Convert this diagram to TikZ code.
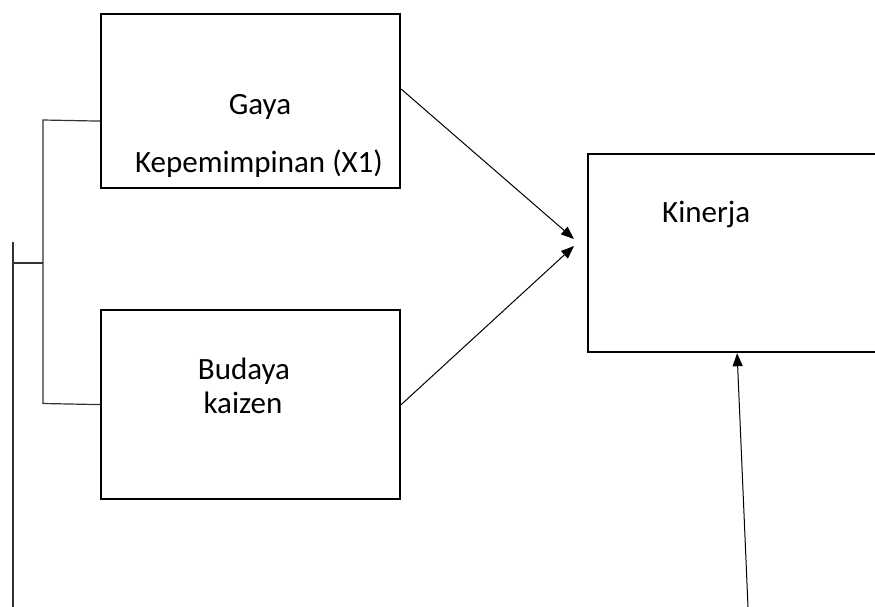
\documentclass[tikz,border=0pt]{standalone}
\usepackage{fontspec}
\setmainfont{Carlito}
\usetikzlibrary{arrows.meta}
\begin{document}
\begin{tikzpicture}[x=1pt,y=-1pt,
  boxnode/.style={draw,line width=2.2pt,rectangle,inner sep=0pt,anchor=north west},
  lbl/.style={inner sep=0pt,font=\fontsize{31}{35}\selectfont},
  conn/.style={line width=1pt,-{Triangle[length=13pt,width=10pt]}},
  brk/.style={line width=1.2pt,draw=black!80}]
\useasboundingbox (0,0) rectangle (875,607);
\node[boxnode,minimum width=299pt,minimum height=174pt] (b1) at (100,13) {};
\node[boxnode,minimum width=299pt,minimum height=189pt] (b2) at (100,309) {};
\node[boxnode,minimum width=298pt,minimum height=198pt] (k) at (587,153) {};
\node[lbl,anchor=base] (g1) at (260,115) {Gaya};
\node[lbl,anchor=base] (g2) at (259,172) {Kepemimpinan (X1)};
\node[lbl,anchor=base] (bd1) at (244,379) {Budaya};
\node[lbl,anchor=base] (bd2) at (243,413) {kaizen};
\node[lbl,anchor=base west] (kt) at (662,222) {Kinerja};
\coordinate (s1) at ([yshift=12pt]b1.east);
\coordinate (t1) at (574,239);
\coordinate (t2) at (574,246);
\coordinate (s3) at (748,607);
\draw[conn] (s1) -- (t1);
\draw[conn] (b2.east) -- (t2);
\draw[conn] (s3) -- (k.south);
\coordinate (b1w) at ([yshift=-20pt]b1.west);
\coordinate (bt) at (43,120);
\coordinate (bb) at (43,403.5);
\coordinate (bm) at (43,263);
\coordinate (lm) at (13,263);
\coordinate (ltop) at (13,242);
\coordinate (lbot) at (13,607);
\draw[brk] (b1w) -- (bt) -- (bb) -- (b2.west);
\draw[brk] (lm) -- (bm);
\draw[brk] (ltop) -- (lbot);
\end{tikzpicture}
\end{document}
